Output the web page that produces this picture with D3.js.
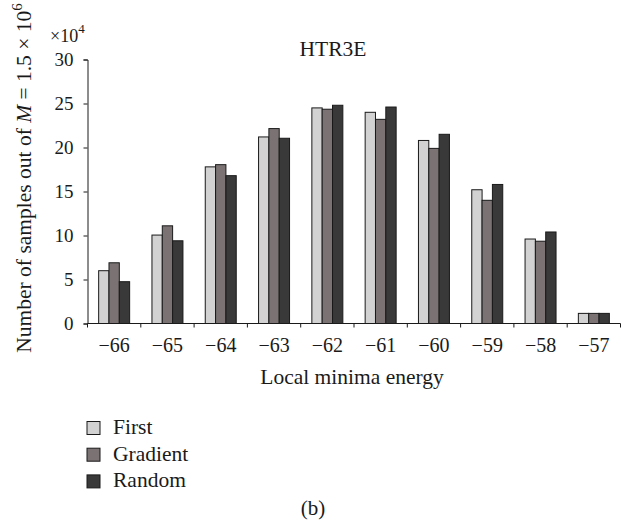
<!DOCTYPE html>
<html>
<head>
<meta charset="utf-8">
<script src="https://cdn.jsdelivr.net/npm/d3@7"></script>
</head>
<body style="margin:0;background:#fff">
<script>
// data (values in units of 10^4)
var categories = ["−66", "−65", "−64", "−63", "−62", "−61", "−60", "−59", "−58", "−57"];
var seriesNames = ["First", "Gradient", "Random"];
var firstVals    = [6.0, 10.05, 17.8, 21.2, 24.5, 24.0, 20.8, 15.2, 9.6, 1.15];
var gradientVals = [6.9, 11.1, 18.05, 22.15, 24.35, 23.2, 19.9, 14.0, 9.35, 1.15];
var randomVals   = [4.75, 9.4, 16.8, 21.05, 24.8, 24.6, 21.5, 15.8, 10.4, 1.15];
var yTicks = [0, 5, 10, 15, 20, 25, 30];
var colors = ["#d2d2d2", "#7b7373", "#393939"];

var allVals = [firstVals, gradientVals, randomVals];
var serif = '"Liberation Serif", "Times New Roman", "DejaVu Serif", serif';

var svg = d3.select('body').append('svg')
    .attr('width', 621)
    .attr('height', 522)
    .style('font-family', serif);

var plotLeft = 87.5, plotRight = 620.5, plotTop = 59.5, plotBottom = 323.5;

var x0 = d3.scaleBand().domain(categories).range([plotLeft, plotRight]).padding(0);
var x1 = d3.scaleBand().domain(seriesNames).range([0, x0.bandwidth()])
    .paddingInner(0).paddingOuter(1.08);
var y = d3.scaleLinear().domain([0, 30]).range([plotBottom, plotTop]);

//BARS
var groups = svg.selectAll('g.grp').data(categories).enter().append('g')
    .attr('class', 'grp')
    .attr('transform', function(d) { return 'translate(' + x0(d) + ',0)'; });

groups.selectAll('rect')
    .data(function(d, i) {
        return seriesNames.map(function(s, k) { return {s: s, k: k, v: allVals[k][i]}; });
    })
    .enter().append('rect')
    .attr('x', function(d) { return x1(d.s); })
    .attr('y', function(d) { return y(d.v); })
    .attr('width', x1.bandwidth())
    .attr('height', function(d) { return plotBottom - y(d.v); })
    .attr('fill', function(d) { return colors[d.k]; })
    .attr('stroke', '#1a1a1a')
    .attr('stroke-width', 1);

//Y AXIS
var yAxis = svg.append('g')
    .attr('transform', 'translate(' + plotLeft + ',0)')
    .call(d3.axisLeft(y).tickValues(yTicks).tickSize(4).tickPadding(10).tickFormat(d3.format('d')));
yAxis.attr('font-family', null).attr('font-size', null);
yAxis.select('.domain').attr('stroke', '#1a1a1a');
yAxis.selectAll('.tick line').attr('stroke', '#1a1a1a');
yAxis.selectAll('text')
    .style('font-family', serif)
    .style('font-size', '19px')
    .attr('fill', '#1a1a1a');

//X AXIS
svg.append('line')
    .attr('x1', plotLeft).attr('x2', plotRight)
    .attr('y1', plotBottom).attr('y2', plotBottom)
    .attr('stroke', '#1a1a1a');

var bounds = categories.map(function(c) { return x0(c); }).concat([plotRight]);
svg.selectAll('line.xt').data(bounds).enter().append('line')
    .attr('class', 'xt')
    .attr('x1', function(d) { return d; }).attr('x2', function(d) { return d; })
    .attr('y1', plotBottom).attr('y2', plotBottom + 4)
    .attr('stroke', '#1a1a1a');

function txt(sel, size) {
    return sel.style('font-family', serif).style('font-size', size).attr('fill', '#1a1a1a');
}

txt(svg.selectAll('text.xl').data(categories).enter().append('text')
    .attr('class', 'xl')
    .attr('x', function(d) { return x0(d) + x0.bandwidth() / 2; })
    .attr('y', 352)
    .attr('text-anchor', 'middle')
    .text(function(d) { return d; }), '20px');

txt(svg.append('text')
    .attr('x', 352).attr('y', 384)
    .attr('text-anchor', 'middle')
    .text('Local minima energy'), '21.5px');

//TITLE
txt(svg.append('text')
    .attr('x', 333).attr('y', 56)
    .attr('text-anchor', 'middle')
    .text('HTR3E'), '21.5px');

//MULTIPLIER
var mult = txt(svg.append('text').attr('x', 50).attr('y', 41.5), '18px');
mult.append('tspan').text('×10');
mult.append('tspan').attr('dy', -9).style('font-size', '13px').text('4');

//Y LABEL
var yl = txt(svg.append('text')
    .attr('transform', 'translate(31,178) rotate(-90)')
    .attr('text-anchor', 'middle'), '21.5px');
yl.append('tspan').text('Number of samples out of ');
yl.append('tspan').style('font-style', 'italic').text('M');
yl.append('tspan').text(' = 1.5 × 10');
yl.append('tspan').attr('dy', -9).style('font-size', '15px').text('6');

//LEGEND
var legend = svg.selectAll('g.leg').data(seriesNames).enter().append('g')
    .attr('class', 'leg')
    .attr('transform', function(d, i) { return 'translate(87,' + (421.5 + i * 26.7) + ')'; });
legend.append('rect')
    .attr('width', 13).attr('height', 13)
    .attr('fill', function(d, i) { return colors[i]; })
    .attr('stroke', '#1a1a1a');
txt(legend.append('text')
    .attr('x', 26).attr('y', 12.5)
    .text(function(d) { return d; }), '21.5px');

txt(svg.append('text')
    .attr('x', 313).attr('y', 515)
    .attr('text-anchor', 'middle')
    .text('(b)'), '21px');
</script>
</body>
</html>
